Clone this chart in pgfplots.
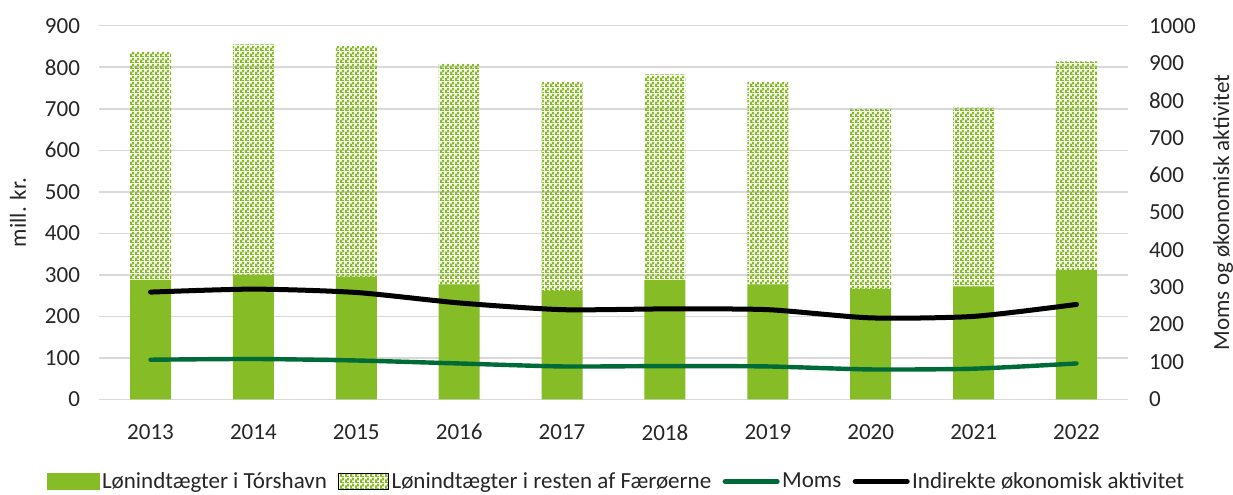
\documentclass[border=0pt]{standalone}
\usepackage{fontspec}
\setmainfont{Carlito}
\usepackage{pgfplots}
\usepackage{pgfplotstable}
\pgfplotsset{compat=1.18}
\usetikzlibrary{patterns}
\definecolor{barg}{HTML}{86BC25}
\definecolor{momsg}{HTML}{006A38}
\definecolor{gridc}{HTML}{D9D9D9}
\definecolor{txt}{HTML}{262626}
\pgfdeclarepatternformonly{exceldots}{\pgfpointorigin}{\pgfqpoint{2.5pt}{3pt}}{\pgfqpoint{2.5pt}{3pt}}{%
  \pgfpathrectangle{\pgfpointorigin}{\pgfqpoint{1.25pt}{2pt}}%
  \pgfpathrectangle{\pgfqpoint{1.25pt}{1.5pt}}{\pgfqpoint{1.25pt}{1.5pt}}%
  \pgfpathrectangle{\pgfqpoint{1.25pt}{0pt}}{\pgfqpoint{1.25pt}{0.5pt}}%
  \pgfusepath{fill}}
\pgfplotstableread{
x tors rest moms ind
0 288 551 106 287
1 300 555 108 295
2 295 556 104 286
3 277 532 96 258
4 261 503 88 240
5 288 495 89 242
6 277 489 88 240
7 266 434 80 218
8 272 431 82 222
9 311 503 96 254
}\data
\begin{document}
\begin{tikzpicture}[font=\fontsize{11.5}{13}\selectfont]
\begin{axis}[
  at={(0,0)}, anchor=south west,
  scale only axis, width=514pt, height=186.65pt,
  xmin=-0.5, xmax=9.5, ymin=0, ymax=900,
  ybar stacked, bar width=20.5pt,
  xtick={0,...,9},
  xticklabels={2013,2014,2015,2016,2017,2018,2019,2020,2021,2022},
  ytick={0,100,...,900},
  ymajorgrids, major grid style={draw=gridc, line width=0.75pt},
  axis line style={draw=none}, major tick length=0pt,
  tick label style={text=txt, font=\fontsize{11.5}{13}\selectfont},
  /pgf/number format/assume math mode=true,
  yticklabel style={xshift=-6pt},
  xticklabel style={yshift=-9pt},
  ylabel={mill. kr.},
  ylabel style={at={(axis description cs:0,0.5)}, anchor=center, rotate=0, yshift=40.5pt, text=txt},
]
\addplot[fill=barg, draw=none] table[x=x,y=tors]{\data};
\addplot[pattern=exceldots, pattern color=barg, draw=none] table[x=x,y=rest]{\data};
\end{axis}
\begin{axis}[
  at={(0,0)}, anchor=south west,
  scale only axis, width=514pt, height=186.65pt,
  xmin=-0.5, xmax=9.5, ymin=0, ymax=1000,
  axis x line=none, axis y line*=right,
  axis line style={draw=none}, major tick length=0pt,
  ytick={0,100,...,1000},
  tick label style={text=txt, font=\fontsize{11.5}{13}\selectfont},
  /pgf/number format/assume math mode=true,
  /pgf/number format/1000 sep={},
  yticklabel style={xshift=7pt},
  ylabel={Moms og økonomisk aktivitet},
  ylabel style={at={(axis description cs:1,0.5)}, anchor=center, yshift=-47.5pt, text=txt},
  legend columns=4,
  legend style={at={(axis description cs:0.503,-0.22)}, anchor=center, draw=none, fill=none,
    font=\fontsize{11.5}{13}\selectfont, text=txt,
    nodes={inner sep=1.2pt},
    /tikz/every even column/.append style={column sep=4.5pt}},
]
\addlegendimage{legend image code/.code={\fill[barg] (0pt,-4pt) rectangle (26pt,4pt);}}
\addlegendentry{Lønindtægter i Tórshavn}
\addlegendimage{legend image code/.code={\fill[pattern=exceldots, pattern color=barg] (0pt,-4pt) rectangle (25pt,4pt);}}
\addlegendentry{Lønindtægter i resten af Færøerne}
\addplot[momsg, line width=2.2pt, smooth, tension=0.4, line cap=round, line join=round,
  legend image code/.code={\draw[momsg, line width=2.5pt, line cap=round] (1pt,0pt) -- (27pt,0pt);}]
  table[x=x,y=moms]{\data};
\addlegendentry{Moms}
\addplot[black, line width=2.5pt, smooth, tension=0.4, line cap=round, line join=round,
  legend image code/.code={\draw[black, line width=2.5pt, line cap=round] (1pt,0pt) -- (27pt,0pt);}]
  table[x=x,y=ind]{\data};
\addlegendentry{Indirekte økonomisk aktivitet}
\end{axis}
\pgfresetboundingbox
\useasboundingbox (-49.5pt,-47.5pt) rectangle (566.5pt,199.5pt);
\end{tikzpicture}
\end{document}
